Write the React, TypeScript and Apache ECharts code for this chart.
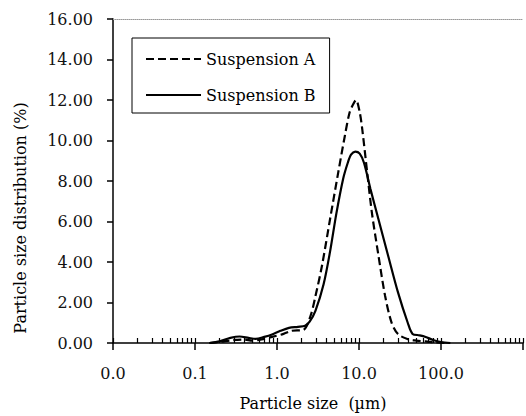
import React, { useEffect, useRef } from "react";
import * as echarts from "echarts";

// Particle size (µm) and distribution (%)
const sizesA = [0.15, 0.2, 0.3, 0.4, 0.5, 0.65, 0.87, 1.2, 1.5, 2.1, 2.57, 2.95, 3.53, 4.43, 5.57, 6.7, 7.65, 8.4, 9.2, 10.2, 11.0, 12.6, 14.4, 17.3, 20.8, 24.9, 29.9, 38.9, 50, 65, 85, 110];
const valuesA = [0, 0.05, 0.15, 0.17, 0.12, 0.18, 0.3, 0.45, 0.6, 0.65, 1.35, 2.33, 3.8, 6.1, 8.4, 10.2, 11.36, 11.75, 12.0, 11.4, 10.5, 8.4, 6.4, 4.3, 2.33, 1.02, 0.44, 0.2, 0.12, 0.08, 0.03, 0];

const sizesB = [0.15, 0.2, 0.27, 0.35, 0.45, 0.55, 0.7, 0.87, 1.1, 1.4, 1.8, 2.2, 2.5, 2.95, 3.7, 4.43, 5.3, 6.4, 7.3, 8.0, 9.0, 10.2, 11.5, 13.8, 17.3, 22.7, 29.9, 39.3, 45, 55, 65, 80, 100, 130];
const valuesB = [0, 0.08, 0.25, 0.32, 0.25, 0.2, 0.3, 0.42, 0.6, 0.75, 0.8, 0.85, 1.05, 1.6, 2.9, 4.5, 6.4, 8.1, 8.9, 9.3, 9.45, 9.35, 8.9, 7.6, 6.1, 4.3, 2.5, 1.0, 0.45, 0.38, 0.3, 0.15, 0.05, 0];

const seriesNames = ["Suspension A", "Suspension B"];
const xMin = 0.01;
const xMax = 1000;
const yMin = 0;
const yMax = 16;
const yInterval = 2;
const xTitle = "Particle size  (µm)";
const yTitle = "Particle size distribution (%)";

const FONT = "DejaVu Serif";

export default function App() {
  const ref = useRef<HTMLDivElement>(null);

  useEffect(() => {
    if (!ref.current) return;
    const chart = echarts.init(ref.current, null, { renderer: "svg" });

    const logMin = Math.log10(xMin);
    const logMax = Math.log10(xMax);
    const tickPos: number[] = [];
    for (let d = logMin; d < logMax; d++) {
      tickPos.push(d);
      for (let k = 2; k <= 9; k++) tickPos.push(d + Math.log10(k));
    }
    tickPos.push(logMax);

    const dataA = sizesA.map((s, i) => [s, valuesA[i]]);
    const dataB = sizesB.map((s, i) => [s, valuesB[i]]);

    chart.setOption({
      animation: false,
      grid: { left: 113, top: 19, bottom: 72, right: -9, containLabel: false },
      legend: {
        orient: "vertical",
        left: 132,
        top: 38,
        padding: [13, 14, 10, 13],
        itemGap: 20,
        itemWidth: 55,
        itemHeight: 14,
        borderColor: "#000",
        borderWidth: 1,
        borderRadius: 0,
        backgroundColor: "#fff",
        itemStyle: { opacity: 0 },
        textStyle: { fontFamily: FONT, fontSize: 16, color: "#000" },
        data: seriesNames,
      },
      xAxis: [
        {
          type: "log",
          logBase: 10,
          min: xMin,
          max: xMax,
          position: "bottom",
          name: xTitle,
          nameLocation: "middle",
          nameGap: 52,
          nameTextStyle: { fontFamily: FONT, fontSize: 16, color: "#000", padding: [0, 10, 0, 0] },
          axisLine: { onZero: false, lineStyle: { color: "#000", width: 1.5 } },
          axisTick: { show: true, inside: false, length: 7, lineStyle: { color: "#000", width: 1.5 } },
          minorTick: { show: false },
          splitLine: { show: false },
          axisLabel: {
            margin: 22,
            fontFamily: FONT,
            fontSize: 16,
            color: "#111",
            formatter: (v: number) => (v >= xMax ? "" : v.toFixed(1)),
          },
        },
        {
          type: "value",
          min: logMin,
          max: logMax,
          position: "bottom",
          axisLine: { show: false, onZero: false },
          axisLabel: { show: false },
          splitLine: { show: false },
          axisTick: {
            show: true,
            inside: true,
            length: 5,
            customValues: tickPos,
            lineStyle: { color: "#000", width: 1.2 },
          },
        },
        {
          type: "value",
          min: logMin,
          max: logMax,
          position: "top",
          axisLine: { show: true, onZero: false, lineStyle: { color: "#999", type: "dotted", width: 1 } },
          axisLabel: { show: false },
          axisTick: { show: false },
          splitLine: { show: false },
        },
      ],
      yAxis: {
        type: "value",
        min: yMin,
        max: yMax,
        interval: yInterval,
        axisLine: { show: true, onZero: false, lineStyle: { color: "#000", width: 1.5 } },
        axisTick: { show: true, inside: false, length: 6, lineStyle: { color: "#000", width: 1.5 } },
        splitLine: { show: false },
        axisLabel: {
          margin: 20,
          fontFamily: FONT,
          fontSize: 16,
          color: "#111",
          formatter: (v: number) => v.toFixed(2),
        },
      },
      graphic: [
        {
          type: "text",
          x: 20,
          y: 218,
          rotation: Math.PI / 2,
          style: {
            text: yTitle,
            fontFamily: FONT,
            fontSize: 16,
            fill: "#000",
            align: "center",
            verticalAlign: "middle",
          },
        },
      ],
      series: [
        {
          name: seriesNames[0],
          type: "line",
          data: dataA,
          smooth: 0.3,
          symbol: "none",
          lineStyle: { color: "#000", width: 2.2, type: [8, 4] },
          itemStyle: { color: "#000" },
        },
        {
          name: seriesNames[1],
          type: "line",
          data: dataB,
          smooth: 0.3,
          symbol: "none",
          lineStyle: { color: "#000", width: 2.2, type: "solid" },
          itemStyle: { color: "#000" },
        },
      ],
    });

    return () => chart.dispose();
  }, []);

  return (
    <div
      ref={ref}
      style={{ position: "fixed", left: 0, top: 0, width: 526, height: 416, background: "#fff" }}
    />
  );
}
